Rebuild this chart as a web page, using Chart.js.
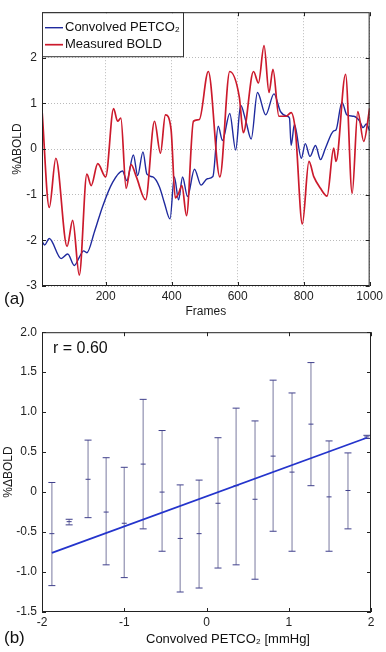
<!DOCTYPE html>
<html>
<head>
<meta charset="utf-8">
<script src="https://cdn.jsdelivr.net/npm/chart.js@4.4.1/dist/chart.umd.min.js"></script>
<style>
  html, body { margin: 0; padding: 0; background: #fff; }
  #wrap { position: relative; width: 386px; height: 652px; }
  canvas { position: absolute; left: 0; }
  #topChart { top: 0; }
  #bottomChart { top: 320px; }
</style>
</head>
<body>
<div id="wrap">
  <canvas id="topChart" width="386" height="320"></canvas>
  <canvas id="bottomChart" width="386" height="332"></canvas>
</div>
<script>
// (a) time courses
const petFrames = [7, 15, 29, 65, 85, 105, 120, 133, 143, 166, 191, 221, 251, 264, 284, 297, 313, 325, 343, 363, 378, 395, 408, 421, 433, 448, 469, 489, 508, 525, 541, 554, 576, 594, 609, 625, 641, 660, 685, 710, 730, 750, 757, 762, 772, 793, 805, 819, 836, 851, 866, 891, 898, 916, 931, 952, 970, 980, 990, 1000];
const petco2 = [-2.02, -2.1, -1.96, -2.4, -2.3, -2.55, -2.37, -2.23, -2.27, -1.81, -1.25, -0.73, -0.48, -0.69, -0.13, -0.58, -0.06, -0.55, -0.61, -0.83, -1.18, -1.53, -0.61, -1.11, -0.61, -1.04, -0.44, -0.79, -0.65, -0.6, 0.5, 0.19, 0.78, -0.02, 0.96, 0.61, 0.22, 1.24, 0.75, 1.21, 0.82, 0.72, 0.68, 0.08, 0.54, -0.2, 0.12, -0.16, 0.08, -0.23, 0.02, 0.4, 0.42, 1.03, 0.75, 0.72, 0.61, 0.47, 0.55, 0.4];

const boldFrames = [7, 29, 49, 83, 100, 120, 143, 156, 176, 200, 224, 236, 246, 262, 277, 293, 321, 348, 366, 381, 398, 411, 421, 431, 445, 466, 484, 511, 546, 576, 605, 617, 648, 663, 680, 695, 707, 725, 747, 762, 775, 796, 816, 831, 851, 871, 891, 898, 927, 947, 964, 982, 1000];
const bold = [0.86, -1.28, -0.2, -2.13, -1.56, -2.76, -0.55, -0.8, -0.32, -0.61, 0.89, 0.61, 0.68, -0.86, -0.34, -0.61, -1.11, 0.61, -0.09, 0.75, 0.44, -1.07, -0.97, -0.8, -1.46, 0.61, 0.65, 1.7, -0.61, 1.7, 1.14, 0.36, 1.7, 1.45, 2.27, 1.24, 1.75, 0.72, 0.72, 0.8, 0.4, -1.64, -0.27, -0.61, -0.86, -1.03, 0.02, -0.27, 1.64, -0.97, 0.82, 0.17, 0.89];

const frameTicks = [200, 400, 600, 800, 1000];
const boldTicks = [-3, -2, -1, 0, 1, 2];

// (b) binned scatter
const binX = [-1.88, -1.67, -1.44, -1.22, -1.0, -0.77, -0.54, -0.32, -0.09, 0.14, 0.36, 0.59, 0.81, 1.04, 1.27, 1.49, 1.72, 1.95];
const binMean = [-0.52, -0.37, 0.16, -0.25, -0.39, 0.35, 0.0, -0.58, -0.52, -0.14, 0.08, -0.09, 0.45, 0.25, 0.85, -0.06, 0.02, 0.69];
const binUpper = [0.12, -0.34, 0.65, 0.43, 0.31, 1.16, 0.77, 0.09, 0.15, 0.68, 1.05, 0.89, 1.4, 1.24, 1.62, 0.64, 0.49, 0.71];
const binLower = [-1.17, -0.41, -0.32, -0.91, -1.07, -0.46, -0.74, -1.25, -1.2, -0.95, -0.91, -1.09, -0.49, -0.74, 0.08, -0.74, -0.46, 0.67];
const fitX = [-1.88, 1.95];
const fitY = [-0.76, 0.68];

const FONT = "'Liberation Sans', Arial, sans-serif";
Chart.defaults.font.family = FONT;
Chart.defaults.font.size = 12;
Chart.defaults.color = '#1a1a1a';

const pts = (xs, ys) => xs.map((x, i) => ({ x, y: ys[i] }));

// MATLAB style box with inward ticks, legend box and free text
const matlabBox = {
  id: 'matlabBox',
  afterDraw(chart, args, opts) {
    const { ctx, chartArea: a, scales } = chart;
    ctx.save();
    ctx.strokeStyle = '#222';
    ctx.lineWidth = 1;
    ctx.beginPath();
    scales.x.ticks.forEach(t => {
      const p = Math.round(scales.x.getPixelForValue(t.value)) + 0.5;
      ctx.moveTo(p, a.bottom); ctx.lineTo(p, a.bottom - 4);
      ctx.moveTo(p, a.top); ctx.lineTo(p, a.top + 4);
    });
    scales.y.ticks.forEach(t => {
      const p = Math.round(scales.y.getPixelForValue(t.value)) + 0.5;
      ctx.moveTo(a.left, p); ctx.lineTo(a.left + 4, p);
      ctx.moveTo(a.right, p); ctx.lineTo(a.right - 4, p);
    });
    ctx.stroke();
    ctx.strokeRect(a.left + 0.5, a.top + 0.5, a.right - a.left - 1, a.bottom - a.top - 1);

    const lg = opts.legend;
    if (lg) {
      ctx.fillStyle = '#fff';
      ctx.fillRect(a.left + 1, a.top + 1, lg.w - 1, lg.h - 1);
      ctx.strokeStyle = '#333';
      ctx.strokeRect(a.left + 0.5, a.top + 0.5, lg.w, lg.h);
      ctx.font = lg.size + 'px ' + FONT;
      ctx.textAlign = 'left';
      ctx.textBaseline = 'middle';
      chart.data.datasets.forEach((ds, i) => {
        const y = a.top + lg.y0 + i * lg.dy;
        ctx.strokeStyle = ds.borderColor;
        ctx.lineWidth = ds.borderWidth;
        ctx.beginPath();
        ctx.moveTo(a.left + 3, y);
        ctx.lineTo(a.left + 3 + lg.line, y);
        ctx.stroke();
        ctx.fillStyle = '#111';
        ctx.fillText(ds.label, a.left + 5 + lg.line, y);
      });
    }

    ctx.fillStyle = '#111';
    ctx.textBaseline = 'middle';
    ctx.textAlign = 'left';
    (opts.texts || []).forEach(t => {
      ctx.font = t.size + 'px ' + FONT;
      ctx.fillText(t.text, t.x, t.y);
    });
    ctx.restore();
  }
};

new Chart(document.getElementById('topChart'), {
  type: 'line',
  data: {
    datasets: [
      {
        label: 'Convolved PETCO₂',
        data: pts(petFrames, petco2),
        borderColor: '#1f2a9e',
        borderWidth: 1.4,
        pointRadius: 0,
        cubicInterpolationMode: 'monotone',
        order: 1
      },
      {
        label: 'Measured BOLD',
        data: pts(boldFrames, bold),
        borderColor: '#cc1a2c',
        borderWidth: 1.7,
        pointRadius: 0,
        cubicInterpolationMode: 'monotone',
        order: 0
      }
    ]
  },
  options: {
    responsive: false,
    animation: false,
    events: [],
    layout: { padding: { left: 0, right: 15, top: 2, bottom: 0 } },
    scales: {
      x: {
        type: 'linear', min: 7, max: 1000,
        afterBuildTicks: s => { s.ticks = frameTicks.map(v => ({ value: v })); },
        afterFit: s => { s.height = 34; },
        ticks: { padding: 3, callback: v => String(v), color: '#222' },
        grid: { color: '#a8a8a8', lineWidth: 0.8, drawTicks: false },
        border: { display: false, dash: [1, 2] },
        title: { display: true, text: 'Frames', font: { size: 12 }, padding: { top: 0, bottom: 1 } }
      },
      y: {
        min: -3, max: 3,
        afterBuildTicks: s => { s.ticks = boldTicks.map(v => ({ value: v })); },
        afterFit: s => { s.width = 42; },
        ticks: { padding: 5, color: '#222' },
        grid: { color: '#a8a8a8', lineWidth: 0.8, drawTicks: false },
        border: { display: false, dash: [1, 2] },
        title: { display: true, text: '%ΔBOLD', font: { size: 12 }, padding: { top: 10, bottom: 0 } }
      }
    },
    plugins: {
      tooltip: { enabled: false },
      legend: { display: false },
      matlabBox: {
        legend: { w: 141, h: 44, y0: 15.5, dy: 17, line: 18, size: 13 },
        texts: [{ text: '(a)', x: 4, y: 299, size: 17 }]
      }
    }
  },
  plugins: [matlabBox]
});

const barSegments = [];
binX.forEach((x, i) => {
  barSegments.push({ x, y: binLower[i] }, { x, y: binUpper[i] }, { x, y: null });
});
const caps = pts(binX, binUpper).concat(pts(binX, binLower));

new Chart(document.getElementById('bottomChart'), {
  type: 'line',
  data: {
    datasets: [
      {
        label: 'fit',
        data: pts(fitX, fitY),
        borderColor: '#2434cc',
        borderWidth: 1.8,
        pointRadius: 0
      },
      {
        label: 'mean',
        data: pts(binX, binMean),
        showLine: false,
        pointStyle: 'line',
        pointRadius: 2.5,
        borderColor: '#3f3f8c',
        borderWidth: 1
      },
      {
        label: 'caps',
        data: caps,
        showLine: false,
        pointStyle: 'line',
        pointRadius: 3.5,
        borderColor: '#3f3f8c',
        borderWidth: 1
      },
      {
        label: 'range',
        data: barSegments,
        borderColor: '#9898b6',
        borderWidth: 1.3,
        pointRadius: 0,
        spanGaps: false
      }
    ]
  },
  options: {
    responsive: false,
    animation: false,
    events: [],
    layout: { padding: { left: 0, right: 15, top: 9, bottom: 0 } },
    scales: {
      x: {
        type: 'linear', min: -2, max: 2,
        ticks: { stepSize: 1, padding: 3, color: '#222' },
        afterFit: s => { s.height = 40; },
        grid: { display: false, drawTicks: false },
        border: { display: false }
      },
      y: {
        min: -1.5, max: 2,
        ticks: { stepSize: 0.5, padding: 5, color: '#222' },
        afterFit: s => { s.width = 42; },
        grid: { display: false, drawTicks: false },
        border: { display: false },
        title: { display: true, text: '%ΔBOLD', font: { size: 12 }, padding: { top: 1, bottom: 0 } }
      }
    },
    plugins: {
      tooltip: { enabled: false },
      legend: { display: false },
      matlabBox: {
        texts: [
          { text: 'r = 0.60', x: 53, y: 29, size: 16 },
          { text: 'Convolved PETCO₂ [mmHg]', x: 146, y: 319, size: 13 },
          { text: '(b)', x: 4, y: 318, size: 17 }
        ]
      }
    }
  },
  plugins: [matlabBox]
});
</script>
</body>
</html>
